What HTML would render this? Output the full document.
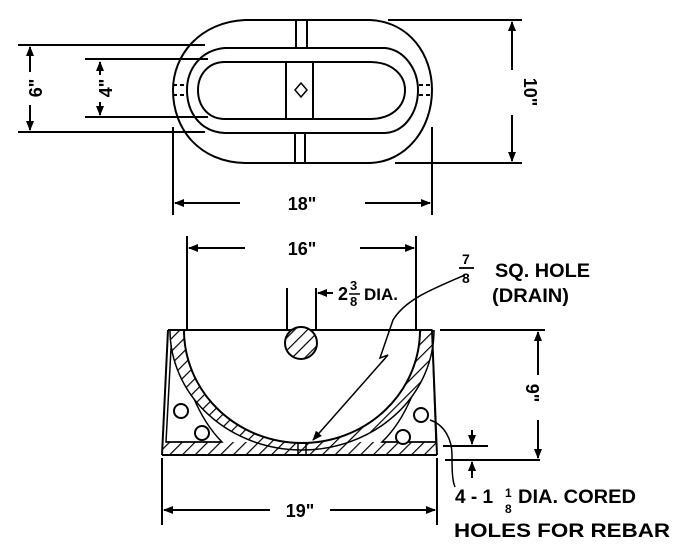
<!DOCTYPE html>
<html><head><style>
html,body{margin:0;padding:0;background:#fff}
svg{display:block}
text{font-family:"Liberation Sans",sans-serif;font-weight:bold;fill:#000}
</style></head><body>
<svg width="695" height="552" viewBox="0 0 695 552" xmlns="http://www.w3.org/2000/svg">
<defs>
<pattern id="h" width="9" height="9" patternUnits="userSpaceOnUse" patternTransform="rotate(45)">
<rect width="9" height="9" fill="#fff"/><line x1="0" y1="0" x2="0" y2="9" stroke="#000" stroke-width="2.4"/>
</pattern>
<marker id="a" markerWidth="10" markerHeight="8" refX="9" refY="4" orient="auto" markerUnits="userSpaceOnUse"><path d="M0,0 L10,4 L0,8 Z" fill="#000"/></marker>
</defs>
<g stroke="#000" stroke-width="2" fill="none">
<!-- TOP VIEW -->
<path d="M245,20 L370,20 C410,22 432,55 432,90 C432,130 405,162 370,163 L245,163 C200,162 173,130 173,90 C173,55 200,22 245,20 Z"/>
<path d="M225,48 L385,48 C405,50 418,70 418,90 C418,112 405,132 385,133 L225,133 C200,132 187,112 187,90 C187,70 200,50 225,48 Z"/>
<path d="M225,62 L370,62 C392,62 405,75 405,90 C405,106 392,119 370,119 L225,119 C208,119 198,106 198,90 C198,75 208,62 225,62 Z"/>
<line x1="286" y1="62" x2="286" y2="119"/><line x1="313" y1="62" x2="313" y2="119"/>
<path d="M301,83 L307,90 L301,97 L295,90 Z" stroke-width="1.5"/>
<line x1="296" y1="20" x2="296" y2="48"/><line x1="307" y1="20" x2="307" y2="48"/>
<line x1="295" y1="133" x2="295" y2="162"/><line x1="305" y1="133" x2="305" y2="162"/>
<g stroke-dasharray="4,3"><line x1="173" y1="85" x2="186" y2="85"/><line x1="173" y1="95" x2="186" y2="95"/>
<line x1="419" y1="85" x2="432" y2="85"/><line x1="419" y1="95" x2="432" y2="95"/></g>
<!-- top dims -->
<line x1="18" y1="45" x2="205" y2="45"/><line x1="18" y1="132" x2="205" y2="132"/>
<line x1="30" y1="47" x2="30" y2="72" marker-end="url(#a)" transform="rotate(180 30 59.5)"/>
<line x1="30" y1="105" x2="30" y2="130" marker-end="url(#a)"/>
<line x1="85" y1="59" x2="208" y2="59"/><line x1="85" y1="117" x2="208" y2="117"/>
<line x1="100" y1="62" x2="100" y2="75" marker-end="url(#a)" transform="rotate(180 100 68.5)"/>
<line x1="100" y1="102" x2="100" y2="115" marker-end="url(#a)"/>
<line x1="388" y1="20" x2="522" y2="20"/><line x1="395" y1="163" x2="522" y2="163"/>
<line x1="512" y1="22" x2="512" y2="70" marker-end="url(#a)" transform="rotate(180 512 46)"/>
<line x1="512" y1="115" x2="512" y2="161" marker-end="url(#a)"/>
<line x1="173" y1="127" x2="173" y2="215"/><line x1="432" y1="127" x2="432" y2="215"/>
<line x1="240" y1="203" x2="175" y2="203" marker-end="url(#a)"/>
<line x1="365" y1="203" x2="430" y2="203" marker-end="url(#a)"/>
<line x1="187" y1="236" x2="187" y2="330"/><line x1="416" y1="236" x2="416" y2="330"/>
<line x1="245" y1="248" x2="189" y2="248" marker-end="url(#a)"/>
<line x1="360" y1="248" x2="414" y2="248" marker-end="url(#a)"/>
<line x1="287" y1="288" x2="287" y2="335"/><line x1="316" y1="288" x2="316" y2="335"/>
<line x1="333" y1="293" x2="318" y2="293" marker-end="url(#a)"/>
<!-- SECTION -->
<rect x="162" y="442" width="275" height="13" fill="url(#h)" stroke="none"/>
<path d="M172,330 L166,442 L222,442 C200,420 182,380 176,330 Z" fill="#fff" stroke-width="1.5"/>
<path d="M432,330 L436,442 L382,442 C405,420 423,380 428,330 Z" fill="#fff" stroke-width="1.5"/>
<path d="M170,330 A132,120 0 0 0 434,330 Z" fill="url(#h)" stroke="none"/>
<line x1="166" y1="442" x2="222" y2="442" stroke-width="1.5"/><line x1="382" y1="442" x2="436" y2="442" stroke-width="1.5"/>
<path d="M184,330 A118,113 0 0 0 420,330 Z" fill="#fff"/>
<path d="M170,330 A132,120 0 0 0 434,330" stroke-width="1.5"/>
<line x1="168" y1="330" x2="432" y2="330"/>
<line x1="168" y1="330" x2="162" y2="455"/><line x1="432" y1="330" x2="437" y2="455"/>
<line x1="162" y1="455" x2="437" y2="455"/>
<line x1="298" y1="443" x2="298" y2="455" stroke-width="1.5"/><line x1="306" y1="443" x2="306" y2="455" stroke-width="1.5"/>
<circle cx="301" cy="343" r="16" fill="url(#h)"/>
<circle cx="181" cy="411" r="7" fill="#fff"/><circle cx="202" cy="433" r="7" fill="#fff"/>
<circle cx="421" cy="415" r="7" fill="#fff"/><circle cx="403" cy="437" r="7" fill="#fff"/>
<path d="M465,275 C430,290 405,300 393,320 L380,358 L388,355 L313,440" marker-end="url(#a)" stroke-width="1.5"/>
<!-- right dims -->
<line x1="440" y1="330" x2="545" y2="330"/><line x1="445" y1="460" x2="540" y2="460"/>
<line x1="538" y1="332" x2="538" y2="375" marker-end="url(#a)" transform="rotate(180 538 353.5)"/>
<line x1="538" y1="420" x2="538" y2="458" marker-end="url(#a)"/>
<line x1="443" y1="446" x2="488" y2="446"/>
<line x1="472" y1="430" x2="472" y2="444" marker-end="url(#a)"/>
<line x1="472" y1="478" x2="472" y2="462" marker-end="url(#a)"/>
<path d="M430,420 C445,425 452,440 452,455 C452,468 452,480 455,487" stroke-width="1.5"/>
<line x1="162" y1="458" x2="162" y2="525"/><line x1="437" y1="458" x2="437" y2="525"/>
<line x1="270" y1="510" x2="164" y2="510" marker-end="url(#a)"/>
<line x1="330" y1="510" x2="435" y2="510" marker-end="url(#a)"/>
</g>
<g font-size="18">
<text transform="translate(42,88) rotate(-90)" text-anchor="middle">6"</text>
<text transform="translate(112,88) rotate(-90)" text-anchor="middle">4"</text>
<text transform="translate(524,92) rotate(90)" text-anchor="middle">10"</text>
<text x="302" y="210" text-anchor="middle">18"</text>
<text x="302" y="255" text-anchor="middle">16"</text>
<text x="338" y="300">2</text><text x="350" y="290" font-size="13">3</text><text x="350" y="306" font-size="13">8</text>
<line x1="349" y1="294" x2="360" y2="294" stroke="#000" stroke-width="1.5"/>
<text x="364" y="300" font-size="17">DIA.</text>
<text x="462" y="264" font-size="14">7</text><line x1="459" y1="268" x2="474" y2="268" stroke="#000" stroke-width="1.8"/><text x="462" y="283" font-size="14">8</text>
<text x="495" y="277" font-size="19" textLength="95" lengthAdjust="spacingAndGlyphs">SQ. HOLE</text>
<text x="492" y="302" font-size="19" textLength="77" lengthAdjust="spacingAndGlyphs">(DRAIN)</text>
<text transform="translate(526,393) rotate(90)" text-anchor="middle">9"</text>
<text x="300" y="517" text-anchor="middle">19"</text>
<text x="455" y="503" font-size="19">4 - 1</text><text x="505" y="497" font-size="12">1</text><text x="505" y="513" font-size="12">8</text>
<text x="518" y="503" font-size="19" textLength="118" lengthAdjust="spacingAndGlyphs">DIA. CORED</text>
<text x="454" y="537" font-size="19" textLength="216" lengthAdjust="spacingAndGlyphs">HOLES FOR REBAR</text>
</g>
</svg>
</body></html>
